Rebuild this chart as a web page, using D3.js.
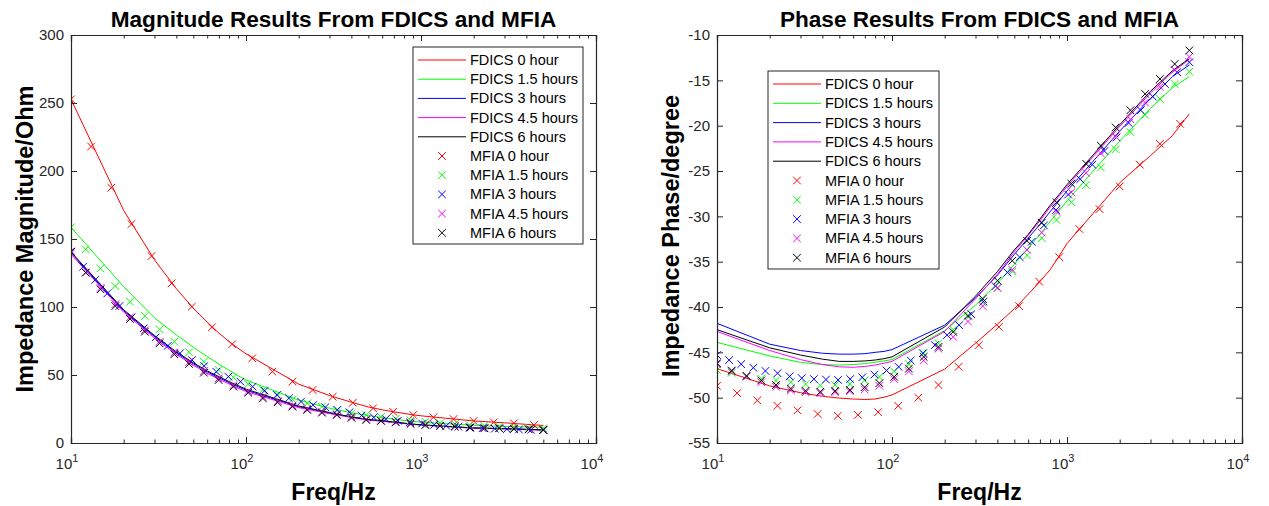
<!DOCTYPE html>
<html><head><meta charset="utf-8">
<script src="https://cdn.jsdelivr.net/npm/d3@7"></script>
<style>
body{margin:0;background:#fff;}
svg{display:block;font-family:"Liberation Sans",Arial,sans-serif;}
</style></head>
<body><svg id="c" width="1269" height="506"></svg>
<script>
// ---------- DATA ----------
const seriesNames = ["0 hour","1.5 hours","3 hours","4.5 hours","6 hours"];
const seriesColors = ["#ff0000","#00ff00","#0000ff","#ff00ff","#000000"];

// FDICS frequency grid (Hz)
const fdicsFreq = [10,20,30,40,50,60,70,80,90,100,200,300,400,500,600,700,800,900,1000,2000,3000,4000,5000];
// MFIA frequency grids (Hz)
const mfiaFreqA = [10,13.03,16.99,22.14,28.86,37.6,49.0,63.9,83.3,108.5,141.4,184.3,240.2,313.0,408,532,693,903,1177,1534,2000,2606,3397,4427];
const mfiaFreqB = [10,12.14,14.75,17.91,21.75,26.41,32.07,38.95,47.30,57.44,69.76,84.72,102.9,124.9,151.7,184.3,223.8,271.8,330.0,400.8,486.7,591.1,717.8,871.7,1059,1286,1561,1896,2303,2796,3396,4124,5000];
const mfiaFreqC = [10,11.73,13.75,16.13,18.91,22.18,26.01,30.50,35.77,41.95,49.19,57.69,67.65,79.33,93.03,109.1,127.9,150.0,175.9,206.3,241.9,283.7,332.7,390.2,457.5,536.6,629.2,737.9,865.3,1015,1190,1395,1636,1919,2250,2639,3094,3629,4255,5000];

// Magnitude (Ohm) – FDICS lines
const magF0  = [252.7,171,134.7,113.4,99.1,88.9,80.8,74.6,69.7,65.6,43.3,34.9,30.0,26.5,24.4,22.95,21.75,20.7,20.0,16.2,14.85,13.7,12.9];
const magF15 = [158.5,115,92,79.5,70.5,63.5,58,53.5,49.5,46.3,31.5,25.6,22.3,20.2,18.7,17.5,16.6,15.9,15.3,13.0,12.2,11.8,11.6];
const magF3  = [139.8,97.2,78.2,66.2,58.2,52.2,48.0,44.4,41.4,38.8,26.6,22.0,19.0,17.1,16.2,15.3,14.5,13.8,13.3,11.0,10.5,10.0,9.6];
const magF45 = [138.8,96.2,77.2,65.2,57.2,51.2,47.0,43.4,40.4,37.9,26.0,21.6,18.7,16.9,16.0,15.1,14.3,13.7,13.2,10.9,10.4,9.9,9.5];
const magF6  = [140.5,98,79,67,59,53,48.8,45.2,42.2,39.6,27.2,22.4,19.2,17.3,16.4,15.5,14.6,13.9,13.4,11.1,10.6,10.05,9.6];
// Magnitude – MFIA points
const magM0  = [252.7,218,187.7,161,137.5,117.4,100.2,85.1,72.6,62.3,52.5,45.1,39,34,29.6,25.5,23,20.6,18.9,17.6,16.2,15.2,14.5,13.2];
const magM15 = [158.6,142.4,128.4,115.4,103.9,93.4,83.6,74.5,66.7,59.8,53.7,48.3,43.2,39,35.3,32.1,29.2,26.7,24.1,21.8,20.5,19.2,17.9,16.6,15.6,14.6,13.9,13.2,12.6,12.1,11.6,11.2,10.8];
const magM3  = [140.7,129.6,119.9,110,100.7,92.4,84.3,77.7,71.5,66,61,56.6,52.4,48.8,45.1,41.4,38.5,35.3,32.9,30.4,27.9,26.25,24.3,22.6,20.2,18.9,17.6,16.4,15.3,14.3,13.4,12.6,12.0,11.4,10.9,10.5,10.2,9.9,9.7,9.5];
const magM45 = [139.5,125.5,114,102,92.5,83,74.5,66.5,59.5,53,47.5,42.5,38,34,30.8,27.6,25.1,23,21.2,19.4,17.6,16.6,15.6,14.5,13.6,12.9,12.3,11.6,11.1,10.9,10.5,10.2,9.8];
const magM6  = [140.7,125.2,113,100.7,91.2,81.8,73.3,65.2,58.1,51.7,46.3,41.4,37,32.8,29.9,26.7,24.3,22.3,20.6,18.5,16.9,16.2,15.2,14,13.2,12.5,12,11.25,10.8,10.8,10.3,10,9.6];

// Phase (degree) – FDICS lines
const phF0  = [-46.8,-48.7,-49.45,-49.85,-50.05,-50.15,-50.2,-50.15,-49.95,-49.7,-46.85,-44.0,-41.9,-40.2,-38.6,-37.2,-35.9,-34.4,-33.0,-26.3,-23.3,-21.1,-18.7];
const phF15 = [-43.9,-45.4,-46.1,-46.35,-46.4,-46.35,-46.25,-46.1,-45.95,-45.8,-42.6,-39.8,-37.4,-35.3,-33.5,-32.0,-30.6,-29.4,-28.3,-21.7,-18.1,-15.8,-14.6];
const phF3  = [-41.8,-44.1,-44.8,-45.1,-45.2,-45.2,-45.15,-45.0,-44.9,-44.7,-42.0,-39.0,-36.5,-34.2,-32.4,-30.9,-29.5,-28.3,-27.2,-20.6,-17.0,-14.6,-13.3];
const phF45 = [-42.7,-44.8,-45.8,-46.35,-46.6,-46.65,-46.55,-46.4,-46.2,-46.0,-42.7,-39.1,-36.4,-33.9,-32.1,-30.5,-29.0,-27.8,-26.7,-20.1,-16.4,-14.1,-12.7];
const phF6  = [-42.5,-44.5,-45.3,-45.75,-46.0,-46.0,-45.95,-45.85,-45.7,-45.5,-42.2,-38.8,-36.1,-33.7,-32.0,-30.3,-28.8,-27.6,-26.5,-19.9,-16.2,-13.95,-12.6];
// Phase – MFIA points
const phM0  = [-48.7,-49.5,-50.3,-50.9,-51.4,-51.8,-52.0,-51.9,-51.6,-50.9,-50.0,-48.6,-46.6,-44.2,-42.2,-39.9,-37.2,-34.5,-31.4,-29.2,-26.7,-24.3,-22.0,-19.8];
const phM15 = [-46.95,-47.25,-47.6,-47.9,-48.1,-48.3,-48.5,-48.65,-48.6,-48.5,-48.1,-47.7,-47.1,-46.3,-45.1,-44.0,-42.5,-41.05,-39.5,-37.9,-36.1,-34.3,-32.4,-30.4,-28.45,-26.55,-24.6,-22.6,-20.7,-18.8,-17.05,-15.4,-14.05];
const phM3  = [-45.3,-45.85,-46.3,-46.7,-47.05,-47.3,-47.65,-47.85,-47.95,-48.0,-48.05,-47.95,-47.75,-47.45,-47.0,-46.6,-45.9,-45.1,-44.2,-43.1,-42.0,-40.8,-39.4,-37.7,-36.2,-34.5,-32.8,-31.0,-29.3,-27.6,-25.9,-24.3,-22.8,-21.3,-19.7,-18.3,-16.8,-15.4,-14.1,-13.0];
const phM45 = [-46.3,-47.1,-47.7,-48.3,-48.8,-49.2,-49.4,-49.5,-49.4,-49.3,-49.1,-48.7,-47.95,-47.1,-45.9,-44.6,-43.3,-41.6,-39.9,-37.9,-35.9,-33.7,-31.8,-29.5,-27.35,-25.2,-23.05,-21.2,-19.3,-17.45,-15.7,-13.85,-12.4];
const phM6  = [-46.2,-47.0,-47.6,-48.1,-48.6,-49.0,-49.25,-49.35,-49.25,-49.15,-48.85,-48.4,-47.7,-46.8,-45.5,-44.4,-42.75,-40.95,-39.1,-37.1,-34.9,-32.7,-30.7,-28.45,-26.4,-24.2,-22.2,-20.2,-18.3,-16.5,-14.85,-13.2,-11.7];

const magTicks = [0,50,100,150,200,250,300];
const phaseTicks = [-55,-50,-45,-40,-35,-30,-25,-20,-15,-10];
const decadeTicks = [10,100,1000,10000];
const decadeExp = ["1","2","3","4"];

// ---------- DRAW ----------
const svg = d3.select("#c");
const axisCol = "#262626";

function panel(opts){
  const {x0,x1,y0,y1,domainY,yTicks,fdics,mfia,mfiaFreqs,title,ylabel,ylabelX,ylabelY,legend} = opts;
  const g = svg.append("g");
  const x = d3.scaleLog().domain([10,10000]).range([x0,x1]);
  const y = d3.scaleLinear().domain(domainY).range([y1,y0]);

  const cid = "clip"+x0;
  svg.append("clipPath").attr("id",cid).append("rect")
    .attr("x",x0).attr("y",y0).attr("width",x1-x0).attr("height",y1-y0);

  const line = d3.line().x((d,i)=>x(fdicsFreq[i])).y(d=>y(d));
  const plot = g.append("g").attr("clip-path",`url(#${cid})`);
  fdics.forEach((arr,si)=>{
    plot.append("path").attr("d",line(arr)).attr("fill","none")
      .attr("stroke",seriesColors[si]).attr("stroke-width",1);
  });
  const m = 3.8;
  mfia.forEach((arr,si)=>{
    const fr = mfiaFreqs[si];
    plot.append("g").selectAll("path").data(arr).join("path")
      .attr("d",(d,i)=>{const cx=x(fr[i]),cy=y(d);
        return `M${cx-m},${cy-m}L${cx+m},${cy+m}M${cx-m},${cy+m}L${cx+m},${cy-m}`;})
      .attr("stroke",seriesColors[si]).attr("stroke-width",1).attr("fill","none");
  });

  const ax = g.append("g");
  const bottom = d3.axisBottom(x).tickValues(decadeTicks).tickSize(-6).tickFormat("");
  const top = d3.axisTop(x).tickValues(decadeTicks).tickSize(-6).tickFormat("");
  const minor = [];
  [10,100,1000].forEach(d=>{for(let k=2;k<=9;k++) minor.push(d*k);});
  const bottomMinor = d3.axisBottom(x).tickValues(minor).tickSize(-3.5).tickFormat("");
  const topMinor = d3.axisTop(x).tickValues(minor).tickSize(-3.5).tickFormat("");
  const left = d3.axisLeft(y).tickValues(yTicks).tickSize(-6).tickFormat("");
  const right = d3.axisRight(y).tickValues(yTicks).tickSize(-6).tickFormat("");
  ax.append("g").attr("transform",`translate(0,${y1})`).call(bottom);
  ax.append("g").attr("transform",`translate(0,${y1})`).call(bottomMinor);
  ax.append("g").attr("transform",`translate(0,${y0})`).call(top);
  ax.append("g").attr("transform",`translate(0,${y0})`).call(topMinor);
  ax.append("g").attr("transform",`translate(${x0},0)`).call(left);
  ax.append("g").attr("transform",`translate(${x1},0)`).call(right);
  ax.selectAll(".domain").attr("stroke",axisCol).attr("stroke-width",1.2);
  ax.selectAll(".tick line").attr("stroke",axisCol).attr("stroke-width",1);

  const yl = g.append("g").attr("font-size",15).attr("fill",axisCol).attr("text-anchor","end");
  yTicks.forEach(t=>{
    yl.append("text").attr("x",x0-7).attr("y",y(t)).attr("dy","0.35em").text(t);
  });
  const xl = g.append("g").attr("font-size",15).attr("fill",axisCol);
  decadeTicks.forEach((t,i)=>{
    const tx = xl.append("text").attr("x",x(t)-4).attr("y",y1+26).attr("text-anchor","middle");
    tx.append("tspan").text("10");
    tx.append("tspan").attr("dy",-7).attr("font-size",11).text(decadeExp[i]);
  });

  g.append("text").attr("x",(x0+x1)/2).attr("y",27).attr("text-anchor","middle")
    .attr("font-weight","bold").attr("font-size",22.6).attr("fill","#000").text(title);
  g.append("text").attr("x",(x0+x1)/2).attr("y",500).attr("text-anchor","middle")
    .attr("font-weight","bold").attr("font-size",23).attr("fill","#000").text("Freq/Hz");
  g.append("text").attr("transform",`translate(${ylabelX},${ylabelY}) rotate(-90)`)
    .attr("text-anchor","middle").attr("font-weight","bold").attr("font-size",23.5)
    .attr("fill","#000").text(ylabel);

  const L = legend;
  const lg = g.append("g");
  lg.append("rect").attr("x",L.x).attr("y",L.y).attr("width",L.w).attr("height",L.h)
    .attr("fill","#fff").attr("stroke",axisCol).attr("stroke-width",1);
  const labels = seriesNames.map(s=>"FDICS "+s).concat(seriesNames.map(s=>"MFIA "+s));
  labels.forEach((lab,i)=>{
    const ry = L.y + L.r0 + i*L.dy;
    const col = seriesColors[i%5];
    if(i<5){
      lg.append("line").attr("x1",L.x+5).attr("x2",L.x+53).attr("y1",ry).attr("y2",ry)
        .attr("stroke",col).attr("stroke-width",1);
    } else {
      const cx=L.x+29, mm=3.8;
      lg.append("path").attr("d",`M${cx-mm},${ry-mm}L${cx+mm},${ry+mm}M${cx-mm},${ry+mm}L${cx+mm},${ry-mm}`)
        .attr("stroke",col).attr("stroke-width",1);
    }
    lg.append("text").attr("x",L.x+57).attr("y",ry).attr("dy","0.35em")
      .attr("font-size",14.5).attr("fill","#000").text(lab);
  });
}

panel({x0:71,x1:596,y0:35,y1:443,domainY:[0,300],yTicks:magTicks,
  fdics:[magF0,magF15,magF3,magF45,magF6],
  mfia:[magM0,magM15,magM3,magM45,magM6],
  mfiaFreqs:[mfiaFreqA,mfiaFreqB,mfiaFreqC,mfiaFreqB,mfiaFreqB],
  title:"Magnitude Results From FDICS and MFIA",
  ylabel:"Impedance Magnitude/Ohm", ylabelX:33, ylabelY:239,
  legend:{x:413,y:47,w:170,h:197,r0:13,dy:19.2}});

panel({x0:717,x1:1242,y0:35,y1:443,domainY:[-55,-10],yTicks:phaseTicks,
  fdics:[phF0,phF15,phF3,phF45,phF6],
  mfia:[phM0,phM15,phM3,phM45,phM6],
  mfiaFreqs:[mfiaFreqA,mfiaFreqB,mfiaFreqC,mfiaFreqB,mfiaFreqB],
  title:"Phase Results From FDICS and MFIA",
  ylabel:"Impedance Phase/degree", ylabelX:679, ylabelY:236,
  legend:{x:768,y:71,w:171,h:198,r0:13,dy:19.3}});
</script></body></html>
